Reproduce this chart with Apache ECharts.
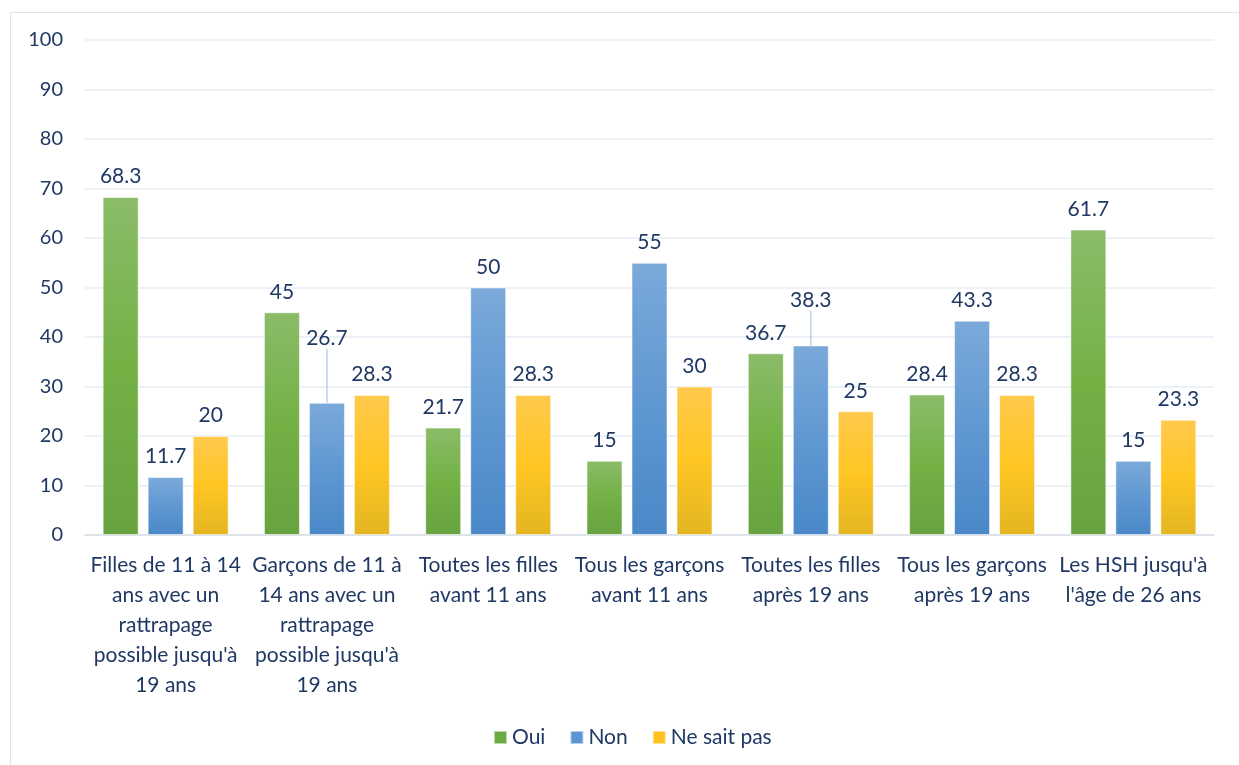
<!DOCTYPE html>
<html>
<head>
<meta charset="utf-8">
<script src="https://cdn.jsdelivr.net/npm/echarts@6/dist/echarts.min.js"></script>
<style>
  html, body { margin: 0; padding: 0; background: #fff; }
  #frame { position: absolute; left: 10px; top: 12px; width: 1260px; height: 800px;
           border: 1.5px solid #DCE5EE; box-sizing: border-box; }
  #chart { position: absolute; left: 0; top: 0; width: 1239px; height: 765px; }
</style>
</head>
<body>
<div id="frame"></div>
<div id="chart"></div>
<script>
// Survey answers per group (percent)
const categories = [
  "Filles de 11 à 14\nans avec un\nrattrapage\npossible jusqu'à\n19 ans",
  "Garçons de 11 à\n14 ans avec un\nrattrapage\npossible jusqu'à\n19 ans",
  "Toutes les filles\navant 11 ans",
  "Tous les garçons\navant 11 ans",
  "Toutes les filles\naprès 19 ans",
  "Tous les garçons\naprès 19 ans",
  "Les HSH jusqu'à\nl'âge de 26 ans"
];
const seriesNames = ["Oui", "Non", "Ne sait pas"];
const oui = [68.3, 45, 21.7, 15, 36.7, 28.4, 61.7];
const non = [11.7, 26.7, 50, 55, 38.3, 43.3, 15];
const neSaitPas = [20, 28.3, 28.3, 30, 25, 28.3, 23.3];
// labels lifted above their bar with a guide line (series "Non")
const liftedNon = { 1: -44, 4: -25 };

const textColor = '#203864';
const font = 'Lato, "Open Sans", sans-serif';

function grad(top, mid, bottom) {
  return new echarts.graphic.LinearGradient(0, 0, 0, 1, [
    { offset: 0, color: top }, { offset: 0.5, color: mid }, { offset: 1, color: bottom }
  ]);
}
const fills = [
  grad('#8BBC69', '#73B145', '#67A340'),
  grad('#7BA9DA', '#6098D2', '#4A88C8'),
  grad('#FFC94D', '#FFC623', '#E3B522')
];
const legendColors = ['#6AAA42', '#5B96D2', '#FDC21E'];

function makeSeries(name, data, idx) {
  const items = data.map(function (v, i) {
    const item = { value: v };
    if (idx === 1 && liftedNon[i] !== undefined) {
      item.labelLine = { show: true, length2: 0, lineStyle: { color: '#BCD1E8', width: 1.5 } };
    }
    return item;
  });
  const s = {
    name: name,
    type: 'bar',
    data: items,
    barWidth: 36,
    barGap: '25%',
    itemStyle: { color: fills[idx], borderColor: 'rgba(255,255,255,0.55)', borderWidth: 1 },
    label: {
      show: true, position: 'top', distance: 10,
      color: textColor, fontFamily: font, fontSize: 21
    },
    labelLine: { show: false }
  };
  if (idx === 1) {
    s.labelLayout = function (p) {
      if (liftedNon[p.dataIndex] !== undefined) return { dy: liftedNon[p.dataIndex] };
      return {};
    };
  }
  return s;
}

const chart = echarts.init(document.getElementById('chart'), null, { renderer: 'canvas' });
chart.setOption({
  animation: false,
  grid: { left: 85, right: 25, top: 40, bottom: 230, containLabel: false },
  legend: {
    bottom: 12, left: 488,
    itemWidth: 13, itemHeight: 13, itemGap: 24,
    icon: 'rect',
    textStyle: { color: textColor, fontFamily: font, fontSize: 21 },
    data: seriesNames.map((n, i) => ({ name: n, itemStyle: { color: legendColors[i] } }))
  },
  xAxis: {
    type: 'category',
    data: categories,
    axisLine: { lineStyle: { color: '#D9DEE4', width: 1.5 } },
    axisTick: { show: false },
    axisLabel: {
      interval: 0, margin: 15, color: textColor, fontFamily: font, fontSize: 21, lineHeight: 30
    }
  },
  yAxis: {
    type: 'value', min: 0, max: 100, interval: 10,
    axisLine: { show: false }, axisTick: { show: false },
    axisLabel: { margin: 22, color: textColor, fontFamily: font, fontSize: 20 },
    splitLine: { lineStyle: { color: '#E4ECF3', width: 1.5 } }
  },
  series: [
    makeSeries(seriesNames[0], oui, 0),
    makeSeries(seriesNames[1], non, 1),
    makeSeries(seriesNames[2], neSaitPas, 2)
  ]
});
</script>
</body>
</html>
